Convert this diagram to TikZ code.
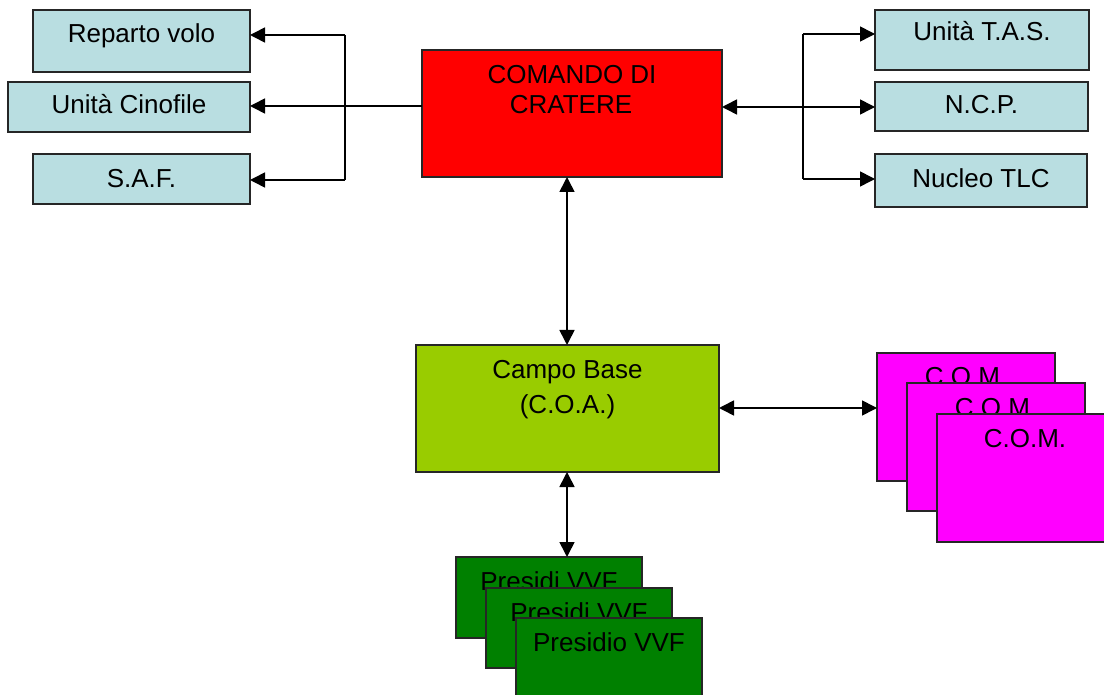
\documentclass[tikz,border=0pt]{standalone}
\usepackage{fontspec}
\setmainfont{Liberation Sans}
\usetikzlibrary{arrows.meta}
\definecolor{lblue}{HTML}{B9DEE1}
\definecolor{cbgreen}{HTML}{99CC00}
\definecolor{dgreen}{HTML}{008000}
\definecolor{mag}{HTML}{FF00FF}
\definecolor{rred}{HTML}{FF0000}
\begin{document}
\begin{tikzpicture}[x=1pt,y=-1pt,
  box/.style={draw=black!85, line width=1.6pt, inner sep=0pt, outer sep=0pt, anchor=north west},
  txt/.style={inner sep=0pt, anchor=base, font=\fontsize{26}{30}\selectfont},
  con/.style={line width=1.6pt, draw=black},
  tip/.style={-{Triangle[length=15pt,width=15pt]}},
  tips/.style={{Triangle[length=15pt,width=15pt]}-{Triangle[length=15pt,width=15pt]}}]
\useasboundingbox (0,0) rectangle (1104,695);

% left boxes
\node[box, fill=lblue, minimum width=217pt, minimum height=62pt] (rv) at (33,10) {};
\node[txt] (trv) at (141.5,43) {Reparto volo};
\node[box, fill=lblue, minimum width=242pt, minimum height=50pt] (uc) at (8,82) {};
\node[txt] (tuc) at (129,114) {Unità Cinofile};
\node[box, fill=lblue, minimum width=217pt, minimum height=50pt] (saf) at (33,154) {};
\node[txt] (tsaf) at (141.5,188) {S.A.F.};

% right boxes
\node[box, fill=lblue, minimum width=214pt, minimum height=60pt] (tas) at (875,10) {};
\node[txt] (ttas) at (982,41) {Unità T.A.S.};
\node[box, fill=lblue, minimum width=213pt, minimum height=49pt] (ncp) at (875,82) {};
\node[txt] (tncp) at (981.5,114) {N.C.P.};
\node[box, fill=lblue, minimum width=212pt, minimum height=53pt] (tlc) at (875,154) {};
\node[txt] (ttlc) at (981,188) {Nucleo TLC};

% comando
\node[box, fill=rred, minimum width=300pt, minimum height=127pt] (cmd) at (422,50) {};
\node[txt] (tcmd1) at (572,84) {COMANDO DI};
\node[txt] (tcmd2) at (571,114) {CRATERE};

% campo base
\node[box, fill=cbgreen, minimum width=303pt, minimum height=127pt] (cb) at (416,345) {};
\node[txt] (tcb1) at (567.5,378) {Campo Base};
\node[txt] (tcb2) at (567.5,413) {(C.O.A.)};

% C.O.M.
\node[box, fill=mag, minimum width=178pt, minimum height=128pt] (com1) at (877,353) {};
\node[txt] (tcom1) at (966,385) {C.O.M.};
\node[box, fill=mag, minimum width=178pt, minimum height=128pt] (com2) at (907,383) {};
\node[txt] (tcom2) at (996,416) {C.O.M.};
\node[box, fill=mag, minimum width=178pt, minimum height=128pt] (com3) at (937,414) {};
\node[txt] (tcom3) at (1025,447) {C.O.M.};

% presidi
\node[box, fill=dgreen, minimum width=186pt, minimum height=81pt] (p1) at (456,557) {};
\node[txt] (tp1) at (549,590) {Presidi VVF};
\node[box, fill=dgreen, minimum width=186pt, minimum height=80pt] (p2) at (486,588) {};
\node[txt] (tp2) at (579,621) {Presidi VVF};
\node[box, fill=dgreen, minimum width=186pt, minimum height=82pt] (p3) at (516,618) {};
\node[txt] (tp3) at (609,651) {Presidio VVF};

% left connectors
\coordinate (lj1) at (345,35);
\coordinate (lj3) at (345,180);
\coordinate (cl) at (422,106);
\draw[con] (lj1) -- (lj3);
\draw[con, tip] (lj1) -- (lj1 -| rv.east);
\draw[con, tip] (cl) -- (cl -| uc.east);
\draw[con, tip] (lj3) -- (lj3 -| saf.east);

% right connectors
\coordinate (rj1) at (803,34);
\coordinate (rj3) at (803,179);
\coordinate (cr) at (722,107);
\draw[con] (rj1) -- (rj3);
\draw[con, tip] (rj1) -- (rj1 -| tas.west);
\draw[con, tips] (cr) -- (cr -| ncp.west);
\draw[con, tip] (rj3) -- (rj3 -| tlc.west);

% vertical connectors
\coordinate (vx) at (567,0);
\draw[con, tips] (vx |- cmd.south) -- (vx |- cb.north);
\draw[con, tips] (vx |- cb.south) -- (vx |- p1.north);

% campo base - C.O.M.
\coordinate (cbr) at (719,408);
\draw[con, tips] (cbr) -- (cbr -| com1.west);
\end{tikzpicture}
\end{document}
